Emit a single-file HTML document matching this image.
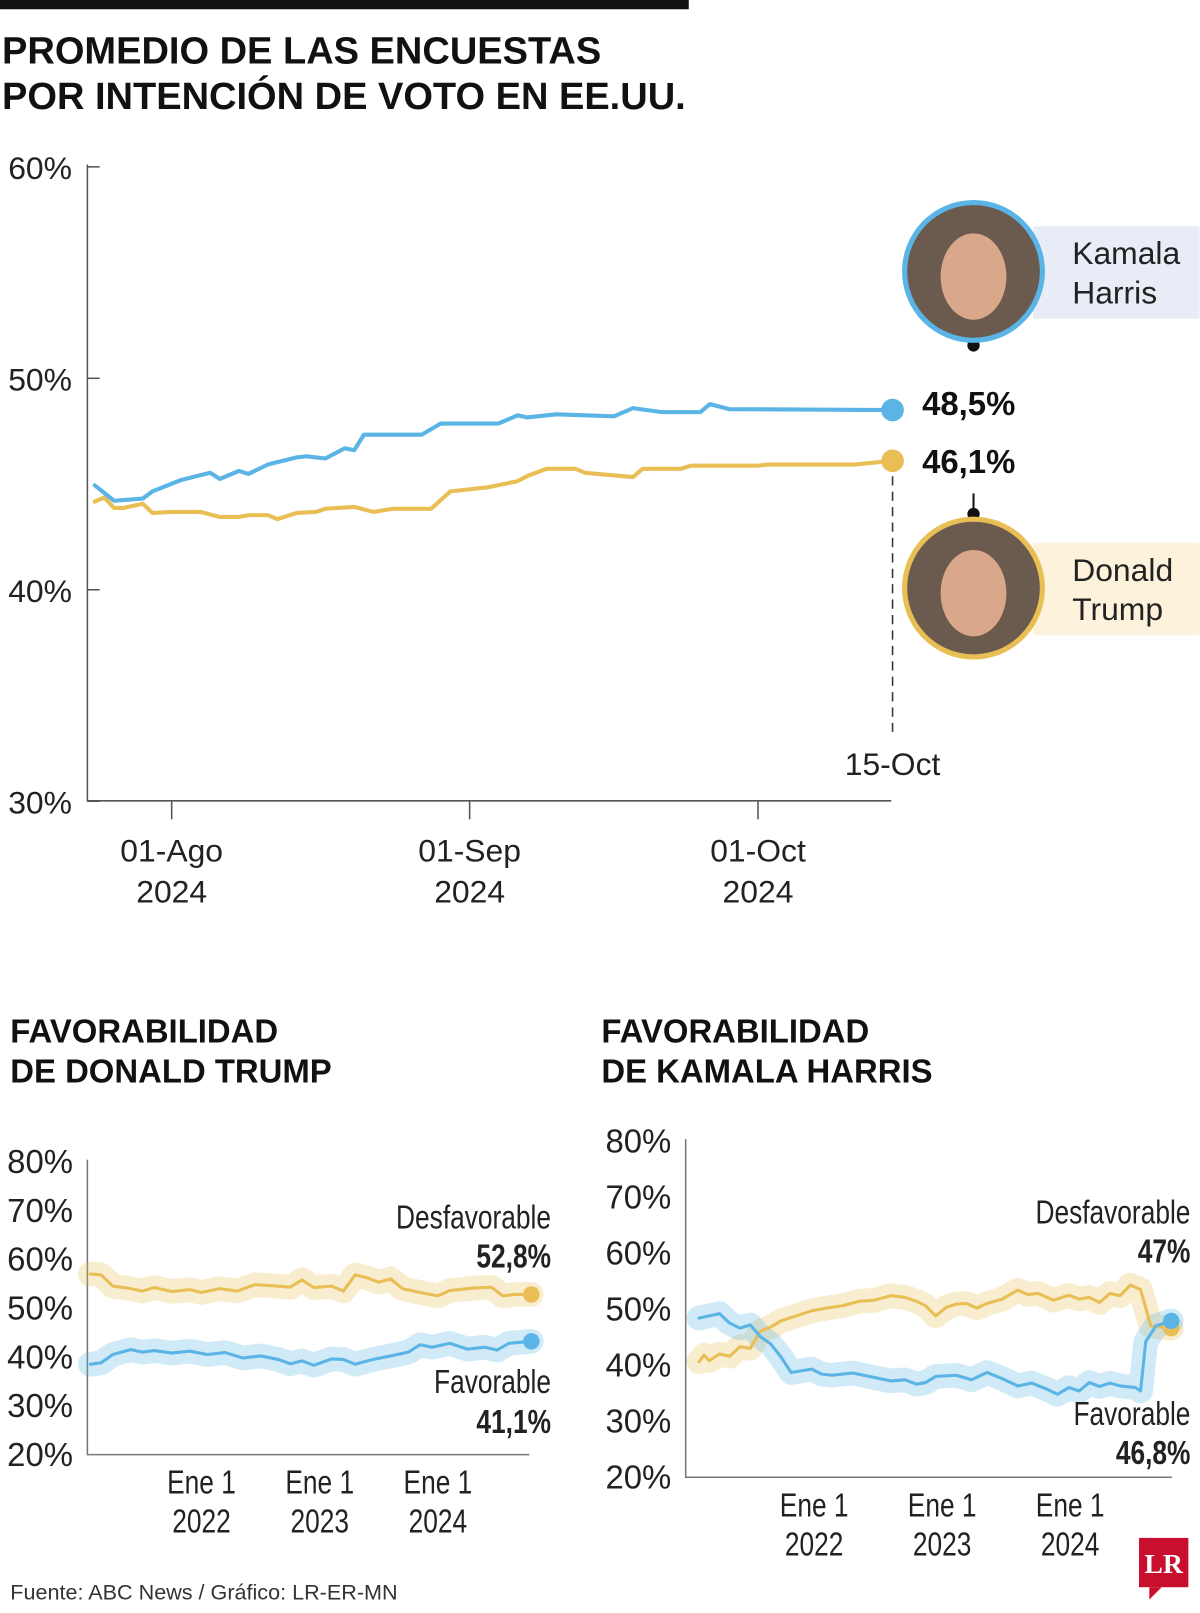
<!DOCTYPE html>
<html><head><meta charset="utf-8"><style>
body{margin:0;background:#fff;}
svg{display:block;font-family:"Liberation Sans",sans-serif;}
.tk{font-size:31px;fill:#222;font-weight:300;}
.nt{font-family:"Liberation Sans Narrow","Liberation Sans",sans-serif;font-size:32px;fill:#222;transform-box:fill-box;}
.ne{transform:scaleX(0.8);transform-origin:right center;}
.nm{transform:scaleX(0.8);transform-origin:center center;}
</style></head><body>
<svg id="c" width="1200" height="1613" viewBox="0 0 1200 1613">
<g transform="scale(1.028)">
<rect x="0" y="0" width="670" height="9" fill="#111"/>
<text x="2" y="62" font-size="37" font-weight="bold" fill="#111">PROMEDIO DE LAS ENCUESTAS</text>
<text x="2" y="106" font-size="37" font-weight="bold" fill="#111">POR INTENCIÓN DE VOTO EN EE.UU.</text>
<g id="main"></g>
<g id="trump"></g>
<g id="harris"></g>
<text x="10" y="1014" font-size="32" font-weight="bold" fill="#111">FAVORABILIDAD</text>
<text x="10" y="1053" font-size="32" font-weight="bold" fill="#111">DE DONALD TRUMP</text>
<text x="585" y="1014" font-size="32" font-weight="bold" fill="#111">FAVORABILIDAD</text>
<text x="585" y="1053" font-size="32" font-weight="bold" fill="#111">DE KAMALA HARRIS</text>
<text x="10" y="1556" font-size="21" fill="#333">Fuente: ABC News / Gráfico: LR-ER-MN</text>
<g>
<rect x="1108" y="1496" width="48" height="48" fill="#c8102e"/>
<polygon points="1118,1544 1130,1544 1118,1556" fill="#c8102e"/>
<text x="1132" y="1530" font-size="27" font-weight="bold" fill="#fff" text-anchor="middle" font-family="Liberation Serif,serif">LR</text>
</g>
</g>
</svg>
<script>
// ---- main chart data ----
const harrisDays=[-8,-6,-3,-2,1,4,5,7,8,10,13,14,16,18,19,20,26,28,34,36,37,40,46,48,51,55,56,58,75];
const harrisVals=[44.94,44.21,44.31,44.65,45.19,45.53,45.24,45.62,45.48,45.92,46.26,46.31,46.21,46.69,46.60,47.33,47.33,47.86,47.86,48.25,48.15,48.30,48.20,48.59,48.40,48.40,48.78,48.54,48.5];
const trumpDays=[-8,-7,-6,-5,-3,-2,0,3,5,7,8,10,11,13,15,16,19,21,23,27,29,33,36,37,39,42,43,48,49,53,54,61,62,71,75];
const trumpVals=[44.17,44.36,43.87,43.87,44.07,43.63,43.68,43.68,43.44,43.44,43.53,43.53,43.34,43.63,43.68,43.83,43.92,43.68,43.83,43.83,44.65,44.85,45.14,45.38,45.72,45.72,45.53,45.33,45.72,45.72,45.87,45.87,45.92,45.92,46.1];
const mainYTicks=[30,40,50,60];
const mainYLabels=["30%","40%","50%","60%"];
const mainXTicks=[0,31,61];
const mainXLabels=[["01-Ago","2024"],["01-Sep","2024"],["01-Oct","2024"]];
// ---- trump favorability ----
const tUnfavYears=[2021.06,2021.15,2021.25,2021.4,2021.5,2021.6,2021.75,2021.9,2022.0,2022.15,2022.3,2022.45,2022.6,2022.75,2022.85,2022.95,2023.1,2023.2,2023.3,2023.4,2023.5,2023.6,2023.7,2023.85,2024.0,2024.1,2024.3,2024.45,2024.55,2024.65,2024.79];
const tUnfavVals=[57,56.8,54.5,54,53.5,54.2,53.4,53.8,53.2,54,53.5,54.8,54.6,54.3,55.8,54.2,54.5,53.5,56.8,56.2,55.3,56,54,53.2,52.5,53.6,54.1,54.3,52.5,52.8,52.8];
const tFavYears=[2021.06,2021.15,2021.25,2021.4,2021.5,2021.6,2021.75,2021.9,2022.05,2022.2,2022.35,2022.5,2022.65,2022.75,2022.85,2022.95,2023.1,2023.2,2023.3,2023.45,2023.6,2023.75,2023.85,2023.95,2024.1,2024.25,2024.4,2024.5,2024.6,2024.79];
const tFavVals=[38.5,38.8,40.5,41.5,41,41.3,40.8,41.2,40.5,40.9,39.8,40.2,39.5,38.6,39.2,38.3,39.6,39.5,38.5,39.5,40.2,41,42.5,42,42.8,41.6,42,41.4,42.8,43.2];
// ---- harris favorability ----
const hUnfavYears=[2021.10,2021.14,2021.18,2021.26,2021.34,2021.42,2021.5,2021.58,2021.66,2021.74,2021.86,2021.98,2022.1,2022.22,2022.35,2022.47,2022.6,2022.71,2022.8,2022.87,2022.95,2023.03,2023.11,2023.19,2023.27,2023.35,2023.47,2023.59,2023.67,2023.75,2023.87,2023.99,2024.07,2024.15,2024.23,2024.31,2024.39,2024.47,2024.55,2024.63,2024.79];
const hUnfavVals=[40.6,41.8,40.8,42.0,41.6,43.3,43.0,46.1,46.8,47.9,48.8,49.7,50.2,50.6,51.4,51.6,52.4,52.1,51.4,50.6,48.8,50.3,50.9,51.0,50.2,51.0,51.8,53.4,52.6,52.8,51.6,52.5,51.8,52.1,51.2,52.8,52.4,54.3,53.5,47.0,46.6];
const hFavYears=[2021.10,2021.18,2021.26,2021.34,2021.42,2021.5,2021.58,2021.66,2021.74,2021.82,2021.98,2022.06,2022.14,2022.3,2022.47,2022.6,2022.71,2022.8,2022.87,2022.95,2023.11,2023.23,2023.35,2023.47,2023.59,2023.7,2023.83,2023.9,2023.99,2024.07,2024.15,2024.23,2024.31,2024.39,2024.51,2024.55,2024.59,2024.67,2024.79];
const hFavVals=[48.4,48.8,49.2,47.5,46.6,47.2,45.1,43.8,41.5,38.7,39.3,38.4,38.2,38.6,37.8,37.2,37.4,36.6,36.9,38.0,38.2,37.4,38.7,37.6,36.3,36.8,35.6,34.8,36.0,35.4,36.9,36.2,36.8,36.3,36.0,35.4,44.2,47.0,47.9];
const smallYTicks=[20,30,40,50,60,70,80];
const yearTicks=[2022,2023,2024];

const NS="http://www.w3.org/2000/svg";
function mk(parent,tag,attrs,txt){const e=document.createElementNS(NS,tag);for(const k in attrs)e.setAttribute(k,attrs[k]);if(txt!==undefined)e.textContent=txt;parent.appendChild(e);return e;}
const BLUE="#5ab4e5",GOLD="#e9bf55";

const main=document.getElementById('main');
const mx=d=>167+d*9.35, my=v=>368-(v-50)*20.57;
let e=mk(main,'path',{d:'M85,160 V779 H867',fill:'none',stroke:'#555','stroke-width':1.5});


mainYTicks.forEach((t,i)=>{
  mk(main,'line',{x1:85,x2:97,y1:my(t),y2:my(t),stroke:'#555','stroke-width':1.5});
  e=mk(main,'text',{x:70,y:my(t)+12,class:'tk','text-anchor':'end'},mainYLabels[i]);
  
  
});
mainXTicks.forEach((t,i)=>{
  mk(main,'line',{x1:mx(t),x2:mx(t),y1:779,y2:797,stroke:'#555','stroke-width':1.5});
  e=mk(main,'text',{x:mx(t),y:838,class:'tk','text-anchor':'middle'},mainXLabels[i][0]);
  
  
  e=mk(main,'text',{x:mx(t),y:878,class:'tk','text-anchor':'middle'},mainXLabels[i][1]);
  
  
});
const lastD=harrisDays[harrisDays.length-1];
e=mk(main,'line',{x1:mx(lastD),x2:mx(lastD),y1:my(trumpVals[trumpVals.length-1]),y2:712,stroke:'#333','stroke-width':1.5,'stroke-dasharray':'9,6'});


e=mk(main,'text',{x:mx(lastD),y:754,class:'tk','text-anchor':'middle'},'15-Oct');


function line(g,xs,vs,fx,fy,col,w,name){
  const d=xs.map((x,i)=>(i?'L':'M')+fx(x).toFixed(1)+','+fy(vs[i]).toFixed(1)).join('');
  const p=mk(g,'path',{d:d,fill:'none',stroke:col,'stroke-width':w,'stroke-linejoin':'round','stroke-linecap':'round'});
  
  
  return p;
}
line(main,trumpDays,trumpVals,mx,my,GOLD,4,'trump-line');
line(main,harrisDays,harrisVals,mx,my,BLUE,4,'harris-line');
const hv=harrisVals[harrisVals.length-1], tv=trumpVals[trumpVals.length-1];
e=mk(main,'circle',{cx:mx(lastD),cy:my(hv),r:11,fill:BLUE});


e=mk(main,'circle',{cx:mx(lastD),cy:my(tv),r:11,fill:GOLD});


e=mk(main,'text',{x:897,y:my(hv)+5,'font-size':32,'font-weight':'bold',fill:'#111'},hv.toFixed(1).replace('.',',')+'%');


e=mk(main,'text',{x:897,y:my(tv)+12,'font-size':32,'font-weight':'bold',fill:'#111'},tv.toFixed(1).replace('.',',')+'%');


function portrait(cy,col,bg,n1,n2,name,lineY1,lineY2,dotY){
  const g=mk(main,'g',{});
  
  
  mk(g,'rect',{x:1005,y:cy-44,width:162,height:90,fill:bg});
  mk(g,'line',{x1:947,x2:947,y1:lineY1,y2:lineY2,stroke:'#111','stroke-width':2});
  mk(g,'circle',{cx:947,cy:dotY,r:6,fill:'#111'});
  mk(g,'circle',{cx:947,cy:cy,r:67,fill:'#6b5a4e',stroke:col,'stroke-width':5});
  mk(g,'ellipse',{cx:947,cy:cy+5,rx:32,ry:42,fill:'#d9a88a'});
  mk(g,'text',{x:1043,y:cy-7,'font-size':31,fill:'#222','font-weight':300},n1);
  mk(g,'text',{x:1043,y:cy+31,'font-size':31,fill:'#222','font-weight':300},n2);
}
portrait(264,'#5ab4e5','#e8ecf7','Kamala','Harris','harris-portrait',330,336,336);
portrait(572,'#e9bf55','#fdf3dd','Donald','Trump','trump-portrait',480,505,500);

function small(g,ax,yTop,yBot,xFirst,yrW,xEnd,uY,uV,fY,fV,labels){
  const sx=y=>xFirst+(y-2022)*yrW, sy=v=>yBot-(v-20)*(yBot-yTop)/60;
  e=mk(g,'path',{d:`M${ax},${yTop-2} V${yBot} H${xEnd}`,fill:'none',stroke:'#777','stroke-width':1.5});
  
  
  smallYTicks.forEach(t=>{
    e=mk(g,'text',{x:ax-14,y:sy(t)+11,class:'nt','text-anchor':'end','font-size':31},t+'%');
    
    
  });
  yearTicks.forEach(y=>{
    e=mk(g,'text',{x:sx(y),y:yBot+38,class:'nt nm','text-anchor':'middle'},'Ene 1');
    
    
    e=mk(g,'text',{x:sx(y),y:yBot+76,class:'nt nm','text-anchor':'middle'},String(y));
    
    
  });
  line(g,uY,uV,sx,sy,'rgba(233,191,85,0.28)',24,'unfavorable-halo');
  line(g,fY,fV,sx,sy,'rgba(90,180,229,0.28)',24,'favorable-halo');
  line(g,uY,uV,sx,sy,GOLD,3,'unfavorable-line');
  line(g,fY,fV,sx,sy,BLUE,3,'favorable-line');
  const ul=uY.length-1, fl=fY.length-1;
  e=mk(g,'circle',{cx:sx(uY[ul]),cy:sy(uV[ul]),r:8,fill:GOLD});
  
  
  e=mk(g,'circle',{cx:sx(fY[fl]),cy:sy(fV[fl]),r:8,fill:BLUE});
  
  
  labels.forEach(l=>{
    e=mk(g,'text',{x:l.x,y:l.y,class:'nt ne','text-anchor':'end','font-weight':l.b?'bold':'normal'},l.t);
    
    
  });
}
small(document.getElementById('trump'),85,1130,1415,196,115,515,tUnfavYears,tUnfavVals,tFavYears,tFavVals,[
 {x:536,y:1195,t:'Desfavorable',n:'trump-unfavorable-label'},
 {x:536,y:1233,t:'52,8%',b:1,n:'trump-unfavorable-value'},
 {x:536,y:1355,t:'Favorable',n:'trump-favorable-label'},
 {x:536,y:1394,t:'41,1%',b:1,n:'trump-favorable-value'}]);
small(document.getElementById('harris'),667,1110,1437,792,124.5,1140,hUnfavYears,hUnfavVals,hFavYears,hFavVals,[
 {x:1158,y:1190,t:'Desfavorable',n:'harris-unfavorable-label'},
 {x:1158,y:1228,t:'47%',b:1,n:'harris-unfavorable-value'},
 {x:1158,y:1386,t:'Favorable',n:'harris-favorable-label'},
 {x:1158,y:1424,t:'46,8%',b:1,n:'harris-favorable-value'}]);
</script>
</body></html>
